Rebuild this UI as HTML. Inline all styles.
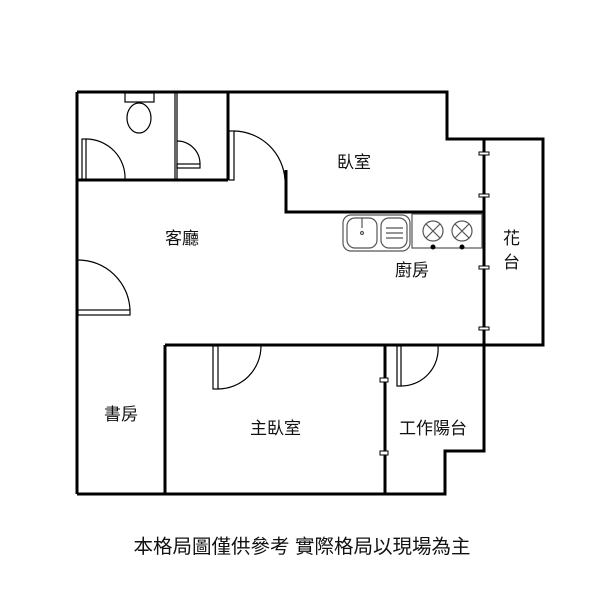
<!DOCTYPE html>
<html><head><meta charset="utf-8"><style>
body{margin:0;background:#fff}
svg{display:block}
text{font-family:"Liberation Sans","Noto Sans CJK TC",sans-serif;font-size:17px;fill:#111}
</style></head><body>
<svg width="600" height="600" viewBox="0 0 600 600" xmlns="http://www.w3.org/2000/svg">
<g fill="none" stroke="#000" stroke-width="3">
<polyline points="77,92 447,92 447,139 543,139 543,345 484,345"/>
<line x1="77" y1="92" x2="77" y2="494"/>
<polyline points="484,139 484,451 445,451 445,494 77,494"/>
<line x1="77" y1="180" x2="228" y2="180"/>
<line x1="228" y1="92" x2="228" y2="180"/>
<polyline points="286,170 286,212 484,212"/>
<line x1="165" y1="345" x2="543" y2="345"/>
<line x1="165" y1="345" x2="165" y2="494"/>
<line x1="385" y1="345" x2="385" y2="494"/>
</g>
<g fill="none" stroke="#000" stroke-width="1.2">
<line x1="175" y1="92" x2="175" y2="180"/><line x1="177" y1="92" x2="177" y2="180"/>
<rect x="125" y="93" width="29" height="9"/>
<ellipse cx="139" cy="118" rx="12" ry="15"/>
<rect x="82" y="139" width="4" height="41"/>
<path d="M86,139 A39,39 0 0 1 125,180"/>
<rect x="177" y="164" width="23" height="4"/>
<path d="M177,141 A23,23 0 0 1 200,164"/>
<rect x="229" y="131" width="5" height="49"/>
<path d="M234,131 A52,52 0 0 1 285,180"/>
<rect x="78" y="310" width="52" height="5"/>
<path d="M78,260 A52,52 0 0 1 130,310"/>
<rect x="213" y="346" width="5" height="43"/>
<path d="M218,389 A43,43 0 0 0 261,346"/>
<rect x="397" y="346" width="4" height="40"/>
<path d="M401,386 A37,37 0 0 0 438,346"/>
</g>
<g fill="#fff" stroke="#000" stroke-width="1">
<rect x="479" y="152" width="10" height="3"/><rect x="479" y="194" width="10" height="3"/>
<rect x="479" y="266" width="10" height="3"/><rect x="479" y="327" width="10" height="3"/>
<rect x="380" y="378" width="8" height="4"/><rect x="380" y="451" width="8" height="4"/>
</g>
<g fill="none" stroke="#555" stroke-width="1.2">
<rect x="343" y="215" width="67" height="36" rx="8"/>
<rect x="347" y="218" width="30" height="30" rx="8"/>
<rect x="381" y="218" width="26" height="30" rx="8"/>
<line x1="362" y1="218" x2="362" y2="228"/>
<circle cx="362" cy="233" r="1.5"/>
<line x1="386" y1="228" x2="403" y2="228"/><line x1="386" y1="233" x2="403" y2="233"/><line x1="386" y1="238" x2="403" y2="238"/>
<rect x="412" y="214" width="70" height="34"/>
<circle cx="433" cy="231" r="10"/><circle cx="462" cy="231" r="10"/>
<path d="M426,224 L440,238 M440,224 L426,238 M455,224 L469,238 M469,224 L455,238"/>
</g>
<circle cx="433" cy="247" r="2.5" fill="#000"/><circle cx="462" cy="247" r="2.5" fill="#000"/>
<text x="165" y="244">客廳</text>
<text x="337" y="168">臥室</text>
<text x="395" y="276">廚房</text>
<text x="503" y="244">花</text>
<text x="503" y="268">台</text>
<text x="104" y="420">書房</text>
<text x="250" y="434">主臥室</text>
<text x="399" y="434">工作陽台</text>
<text x="302" y="553" text-anchor="middle" style="font-size:19.5px">本格局圖僅供參考 實際格局以現場為主</text>
</svg>
</body></html>
